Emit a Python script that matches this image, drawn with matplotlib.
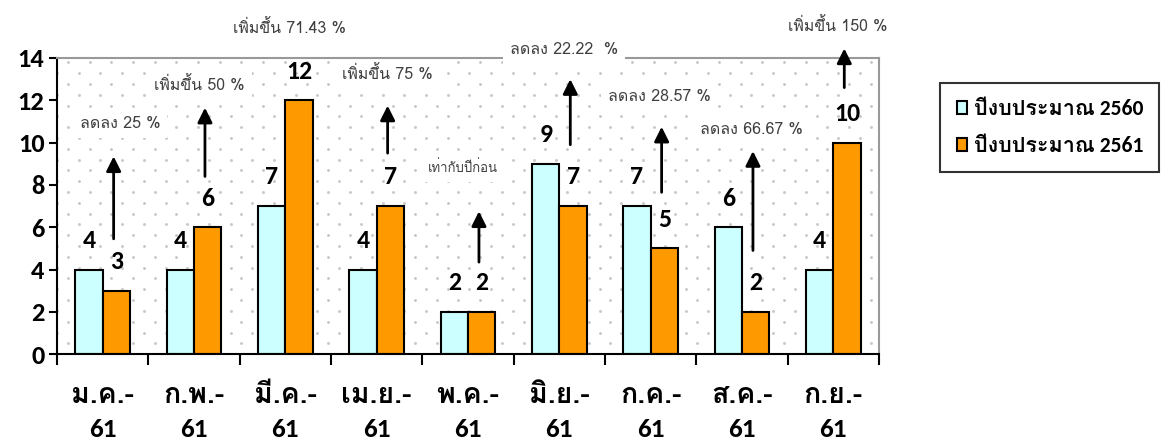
import numpy as np
import matplotlib
matplotlib.use("Agg")
import matplotlib.pyplot as plt
from matplotlib import font_manager

names = {f.name for f in font_manager.fontManager.ttflist}
latin = 'Carlito' if 'Carlito' in names else 'Loma'
bold_fam = [latin, 'Loma', 'DejaVu Sans']
plt.rcParams['font.family'] = ['Loma', 'DejaVu Sans']

months = ['ม.ค.-', 'ก.พ.-', 'มี.ค.-', 'เม.ย.-', 'พ.ค.-', 'มิ.ย.-', 'ก.ค.-', 'ส.ค.-', 'ก.ย.-']
year = '61'
y2560 = [4, 4, 7, 4, 2, 9, 7, 6, 4]
y2561 = [3, 6, 12, 7, 2, 7, 5, 2, 10]
series_names = ['ปีงบประมาณ 2560', 'ปีงบประมาณ 2561']

# change notes per month, with where the note and its arrow sit
notes = ['ลดลง 25 %', 'เพิ่มขึ้น 50 %', 'เพิ่มขึ้น 71.43 %', 'เพิ่มขึ้น 75 %', 'เท่ากับปีก่อน',
         'ลดลง 22.22  %', 'ลดลง 28.57 %', 'ลดลง 66.67 %', 'เพิ่มขึ้น 150 %']
note_y = [10.9, 12.7, 15.4, 13.2, 8.8, 14.4, 12.15, 10.6, 15.5]
note_dx = [0.19, 0.06, 0.05, 0.12, -0.05, 0.05, 0.09, 0.1, 0.05]
arrow_lo = [5.45, 8.4, None, 9.5, 4.35, 9.9, 7.65, 4.9, 12.6]
arrow_hi = [9.35, 11.65, None, 11.75, 6.75, 13.0, 10.75, 9.6, 14.45]

fig = plt.figure(figsize=(11.61, 4.41), dpi=100)
ax = fig.add_axes([0.0491, 0.197, 0.708, 0.6715])

x = np.arange(len(months))
w = 0.3
ax.bar(x - w/2, y2560, w, color='#CCFFFF', edgecolor='black', linewidth=1.5, label=series_names[0], zorder=3)
ax.bar(x + w/2, y2561, w, color='#FF9900', edgecolor='black', linewidth=1.5, label=series_names[1], zorder=3)

ax.set_xlim(-0.5, len(months) - 0.5)
ax.set_ylim(0, 14)

# dotted background pattern
gx, gy = np.meshgrid(np.arange(0, 1.02, 0.0264), np.arange(0.0, 1.0, 0.0365))
gx = gx + (np.arange(gy.shape[0])[:, None] % 2) * 0.0132
ax.scatter(gx.ravel(), gy.ravel(), s=1.2, color='#c8c8c8', transform=ax.transAxes, zorder=0)

for i in range(len(months)):
    ax.annotate(str(y2560[i]), (x[i] - w/2, y2560[i]), xytext=(0, 21), textcoords='offset points',
                ha='center', va='center', fontsize=18.5, fontweight='bold', family=bold_fam, zorder=5)
    ax.annotate(str(y2561[i]), (x[i] + w/2, y2561[i]), xytext=(0, 21), textcoords='offset points',
                ha='center', va='center', fontsize=18.5, fontweight='bold', family=bold_fam, zorder=5)
    fs = 9.5 if i == 4 else 11.5
    ax.text(x[i] + note_dx[i], note_y[i], notes[i], ha='center', va='center', fontsize=fs, color='#404040',
            bbox=dict(facecolor='white', edgecolor='none', pad=5), zorder=4, clip_on=False)
    if arrow_lo[i] is not None:
        ax.annotate('', xy=(x[i] + 0.12, arrow_hi[i]), xytext=(x[i] + 0.12, arrow_lo[i]),
                    arrowprops=dict(arrowstyle='-|>', lw=2, color='black', mutation_scale=22,
                                    shrinkA=0, shrinkB=0), zorder=6, annotation_clip=False)
    # two-line category label
    ax.annotate(months[i], (x[i], 0), xycoords=('data', 'axes fraction'), xytext=(0, -29.5),
                textcoords='offset points', ha='center', va='center', fontsize=20.5, fontweight='bold',
                family=['Loma', 'DejaVu Sans'], annotation_clip=False)
    ax.annotate(year, (x[i], 0), xycoords=('data', 'axes fraction'), xytext=(0, -54.5),
                textcoords='offset points', ha='center', va='center', fontsize=19.5, fontweight='bold',
                family=bold_fam, annotation_clip=False)

ax.set_yticks(range(0, 15, 2))
ax.set_yticklabels([str(v) for v in range(0, 15, 2)], fontsize=19, fontweight='bold', family=bold_fam)
ax.tick_params(axis='y', width=1.5, length=6, direction='out', pad=3)
ax.set_xticks([-0.5] + list(x[1:] - 0.5) + [len(months) - 0.5])
ax.set_xticklabels([])
ax.tick_params(axis='x', which='major', length=8, width=1.5)

ax.spines['left'].set_linewidth(1.5)
ax.spines['bottom'].set_linewidth(1.5)
for side in ['top', 'right']:
    ax.spines[side].set_color('#999999')
    ax.spines[side].set_linewidth(1.5)
for s in ax.spines.values():
    s.set_zorder(3.5)

leg = fig.legend(loc='upper left', bbox_to_anchor=(0.81, 0.812),
                 prop=dict(size=15.5, weight='bold', family=bold_fam),
                 frameon=True, fancybox=False, edgecolor='black', handlelength=0.5, handleheight=0.5,
                 handletextpad=0.3, labelspacing=0.8, borderpad=0.75, borderaxespad=0)
leg.get_frame().set_linewidth(1.5)

fig.savefig('out.png', dpi=100)
